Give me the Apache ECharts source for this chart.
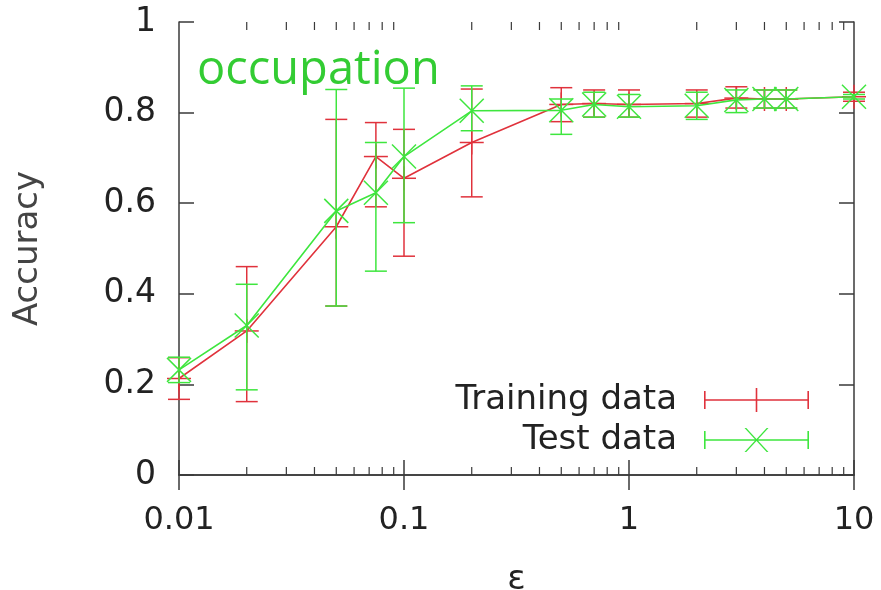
<!DOCTYPE html>
<html>
<head>
<meta charset="utf-8">
<script src="https://cdn.jsdelivr.net/npm/echarts@6/dist/echarts.min.js"></script>
<style>
  html, body { margin: 0; padding: 0; background: #fff; }
  #chart { width: 881px; height: 590px; }
</style>
</head>
<body>
<div id="chart"></div>
<script>
// Privacy budget epsilon (log scale)
const epsilon = [0.01, 0.02, 0.05, 0.075, 0.1, 0.2, 0.5, 0.7, 1, 2, 3, 4, 5, 10];

// Training data: mean accuracy with lower / upper error bounds
const trainAcc  = [0.213, 0.318, 0.548, 0.703, 0.655, 0.734, 0.818, 0.820, 0.818, 0.820, 0.832, 0.830, 0.830, 0.835];
const trainLow  = [0.167, 0.162, 0.373, 0.592, 0.483, 0.614, 0.780, 0.790, 0.790, 0.790, 0.810, 0.810, 0.810, 0.825];
const trainHigh = [0.259, 0.460, 0.785, 0.778, 0.763, 0.852, 0.855, 0.850, 0.850, 0.850, 0.857, 0.850, 0.850, 0.845];

// Test data: mean accuracy with lower / upper error bounds
const testAcc  = [0.232, 0.330, 0.583, 0.623, 0.703, 0.804, 0.805, 0.818, 0.813, 0.815, 0.828, 0.830, 0.830, 0.835];
const testLow  = [0.204, 0.188, 0.373, 0.450, 0.557, 0.760, 0.752, 0.790, 0.790, 0.785, 0.800, 0.810, 0.810, 0.830];
const testHigh = [0.260, 0.421, 0.851, 0.734, 0.854, 0.859, 0.830, 0.845, 0.840, 0.845, 0.850, 0.850, 0.850, 0.840];

// Minor tick positions between the decades of the epsilon axis
const xMinorTicks = [0.02, 0.03, 0.04, 0.05, 0.06, 0.07, 0.08, 0.09,
                     0.2, 0.3, 0.4, 0.5, 0.6, 0.7, 0.8, 0.9,
                     2, 3, 4, 5, 6, 7, 8, 9];

const RED = '#e0323c';
const GREEN = '#3ee63e';
const AXIS = '#3a3a3a';
const FONT = 'DejaVu Sans';

const chart = echarts.init(document.getElementById('chart'), null, { renderer: 'canvas' });

function errorBarRenderer(color, marker) {
  return function (params, api) {
    const x = api.value(0);
    const c = api.coord([x, api.value(1)]);
    const lo = api.coord([x, api.value(2)]);
    const hi = api.coord([x, api.value(3)]);
    const cap = 11;
    const m = 12;
    const style = { stroke: color, lineWidth: 1.5, fill: null };
    const children = [
      { type: 'line', shape: { x1: lo[0], y1: lo[1], x2: hi[0], y2: hi[1] }, style },
      { type: 'line', shape: { x1: lo[0] - cap, y1: lo[1], x2: lo[0] + cap, y2: lo[1] }, style },
      { type: 'line', shape: { x1: hi[0] - cap, y1: hi[1], x2: hi[0] + cap, y2: hi[1] }, style }
    ];
    if (marker === 'plus') {
      children.push({ type: 'line', shape: { x1: c[0] - m, y1: c[1], x2: c[0] + m, y2: c[1] }, style });
      children.push({ type: 'line', shape: { x1: c[0], y1: c[1] - m, x2: c[0], y2: c[1] + m }, style });
    } else {
      children.push({ type: 'line', shape: { x1: c[0] - m, y1: c[1] - m, x2: c[0] + m, y2: c[1] + m }, style });
      children.push({ type: 'line', shape: { x1: c[0] - m, y1: c[1] + m, x2: c[0] + m, y2: c[1] - m }, style });
    }
    return { type: 'group', children };
  };
}

// Short minor ticks on the bottom and top borders
function minorTickRenderer(params, api) {
  const x = api.value(0);
  const b = api.coord([x, 0]);
  const t = api.coord([x, 1]);
  const len = 8;
  const style = { stroke: AXIS, lineWidth: 1.2 };
  return {
    type: 'group',
    children: [
      { type: 'line', shape: { x1: b[0], y1: b[1], x2: b[0], y2: b[1] - len }, style },
      { type: 'line', shape: { x1: t[0], y1: t[1], x2: t[0], y2: t[1] + len }, style }
    ]
  };
}

// Legend icons: horizontal error bar with end caps and the centre marker
const trainIcon = 'path://M0,11.2h105v1.6h-105Z M0,3h1.6v18h-1.6Z M103.4,3h1.6v18h-1.6Z M51.7,0h1.6v24h-1.6Z';
const testIcon = 'path://M0,11.2h105v1.6h-105Z M0,3h1.6v18h-1.6Z M103.4,3h1.6v18h-1.6Z ' +
  'M40.5,0L42.3,0L64.5,24L62.7,24Z M62.7,0L64.5,0L42.3,24L40.5,24Z';

const zip = (a, b, c, d) => a.map((v, i) => [v, b[i], c[i], d[i]]);

const legendBase = {
  orient: 'vertical',
  align: 'right',
  right: 67,
  itemWidth: 105,
  itemHeight: 24,
  selectedMode: false,
  textStyle: { fontFamily: FONT, fontSize: 34, color: '#222', padding: [0, 22, 0, 0] }
};

chart.setOption({
  animation: false,
  backgroundColor: '#fff',
  title: {
    text: 'occupation',
    left: 192,
    top: 42,
    textStyle: { fontFamily: 'Open Sans', fontSize: 47, fontWeight: 'normal', color: '#33cc33' }
  },
  legend: [
    Object.assign({}, legendBase, { top: 378, data: [{ name: 'Training data', icon: trainIcon }] }),
    Object.assign({}, legendBase, { top: 418, data: [{ name: 'Test data', icon: testIcon }] })
  ],
  grid: { left: 179, right: 27, top: 22, bottom: 115, containLabel: false, outerBoundsMode: 'none' },
  xAxis: [
    {
      type: 'log',
      logBase: 10,
      min: 0.01,
      max: 10,
      name: 'ε',
      nameLocation: 'middle',
      nameGap: 88,
      nameTextStyle: { fontFamily: FONT, fontSize: 34, color: '#222' },
      axisLine: { show: true, lineStyle: { color: AXIS, width: 1.5 } },
      axisTick: { show: true, inside: true, length: 15, lineStyle: { color: AXIS, width: 1.5 } },
      axisLabel: { margin: 30, fontFamily: FONT, fontSize: 32, color: '#222' },
      splitLine: { show: false }
    },
    {
      type: 'log',
      logBase: 10,
      min: 0.01,
      max: 10,
      position: 'top',
      axisLine: { show: true, lineStyle: { color: AXIS, width: 1.5 } },
      axisTick: { show: true, inside: true, length: 15, lineStyle: { color: AXIS, width: 1.5 } },
      axisLabel: { show: false },
      splitLine: { show: false }
    }
  ],
  yAxis: [
    {
      type: 'value',
      min: 0,
      max: 1,
      interval: 0.2,
      name: 'Accuracy',
      nameLocation: 'middle',
      nameGap: 134,
      nameRotate: 90,
      nameTextStyle: { fontFamily: FONT, fontSize: 34, color: '#444' },
      axisLine: { show: true, lineStyle: { color: AXIS, width: 1.5 } },
      axisTick: { show: true, inside: true, length: 15, lineStyle: { color: AXIS, width: 1.5 } },
      axisLabel: {
        margin: 23, fontFamily: FONT, fontSize: 33, color: '#222',
        formatter: v => String(+v.toFixed(1))
      },
      splitLine: { show: false }
    },
    {
      type: 'value',
      min: 0,
      max: 1,
      interval: 0.2,
      position: 'right',
      axisLine: { show: true, lineStyle: { color: AXIS, width: 1.5 } },
      axisTick: { show: true, inside: true, length: 15, lineStyle: { color: AXIS, width: 1.5 } },
      axisLabel: { show: false },
      splitLine: { show: false }
    }
  ],
  series: [
    {
      type: 'custom',
      name: 'minor ticks',
      xAxisIndex: 0,
      yAxisIndex: 0,
      silent: true,
      clip: false,
      renderItem: minorTickRenderer,
      data: xMinorTicks.map(v => [v])
    },
    {
      type: 'line',
      name: 'Training data',
      xAxisIndex: 0,
      yAxisIndex: 0,
      data: epsilon.map((v, i) => [v, trainAcc[i]]),
      showSymbol: false,
      itemStyle: { color: RED },
      lineStyle: { color: RED, width: 1.6 },
      z: 3
    },
    {
      type: 'custom',
      name: 'Training data',
      xAxisIndex: 0,
      yAxisIndex: 0,
      itemStyle: { color: RED },
      renderItem: errorBarRenderer(RED, 'plus'),
      encode: { x: 0, y: 1 },
      data: zip(epsilon, trainAcc, trainLow, trainHigh),
      z: 3
    },
    {
      type: 'line',
      name: 'Test data',
      xAxisIndex: 0,
      yAxisIndex: 0,
      data: epsilon.map((v, i) => [v, testAcc[i]]),
      showSymbol: false,
      itemStyle: { color: GREEN },
      lineStyle: { color: GREEN, width: 1.6 },
      z: 4
    },
    {
      type: 'custom',
      name: 'Test data',
      xAxisIndex: 0,
      yAxisIndex: 0,
      itemStyle: { color: GREEN },
      renderItem: errorBarRenderer(GREEN, 'cross'),
      encode: { x: 0, y: 1 },
      data: zip(epsilon, testAcc, testLow, testHigh),
      z: 4
    }
  ]
});
</script>
</body>
</html>
